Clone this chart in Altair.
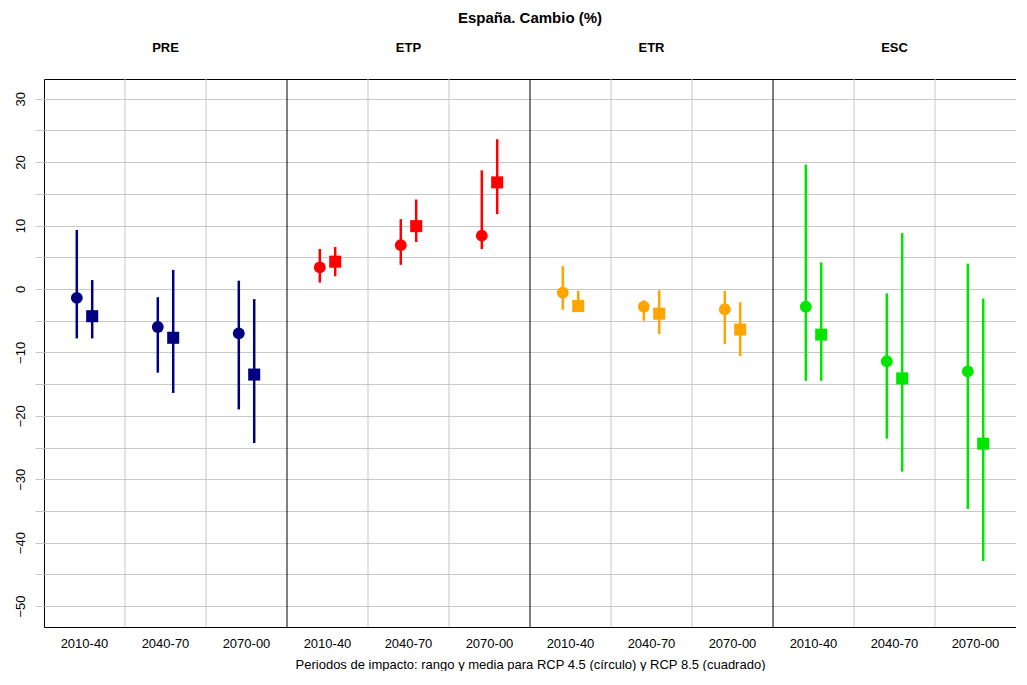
import altair as alt
import pandas as pd

variables = ["PRE", "ETP", "ETR", "ESC"]
periods = ["2010-40", "2040-70", "2070-00"]
scenarios = ["RCP 4.5", "RCP 8.5"]
colors = ["#000080", "#ff0000", "#ffa500", "#00e600"]

# RCP 4.5 (circle): mean, min, max per period
pre45_mean = [-1.4, -6.0, -7.0]
pre45_lo = [-7.8, -13.2, -19.0]
pre45_hi = [9.3, -1.3, 1.3]
etp45_mean = [3.4, 6.9, 8.4]
etp45_lo = [1.0, 3.8, 6.3]
etp45_hi = [6.3, 11.0, 18.7]
etr45_mean = [-0.6, -2.8, -3.2]
etr45_lo = [-3.3, -5.0, -8.7]
etr45_hi = [3.6, -1.8, -0.3]
esc45_mean = [-2.8, -11.4, -13.0]
esc45_lo = [-14.5, -23.6, -34.7]
esc45_hi = [19.6, -0.7, 4.0]

# RCP 8.5 (square): mean, min, max per period
pre85_mean = [-4.3, -7.7, -13.5]
pre85_lo = [-7.8, -16.4, -24.3]
pre85_hi = [1.4, 3.0, -1.6]
etp85_mean = [4.3, 9.9, 16.8]
etp85_lo = [2.0, 7.4, 11.8]
etp85_hi = [6.6, 14.1, 23.6]
etr85_mean = [-2.7, -3.9, -6.4]
etr85_lo = [-3.6, -7.1, -10.6]
etr85_hi = [-0.3, -0.2, -2.1]
esc85_mean = [-7.2, -14.1, -24.4]
esc85_lo = [-14.5, -28.8, -42.9]
esc85_hi = [4.2, 8.8, -1.5]

series = {
    ("PRE", "RCP 4.5"): (pre45_mean, pre45_lo, pre45_hi),
    ("PRE", "RCP 8.5"): (pre85_mean, pre85_lo, pre85_hi),
    ("ETP", "RCP 4.5"): (etp45_mean, etp45_lo, etp45_hi),
    ("ETP", "RCP 8.5"): (etp85_mean, etp85_lo, etp85_hi),
    ("ETR", "RCP 4.5"): (etr45_mean, etr45_lo, etr45_hi),
    ("ETR", "RCP 8.5"): (etr85_mean, etr85_lo, etr85_hi),
    ("ESC", "RCP 4.5"): (esc45_mean, esc45_lo, esc45_hi),
    ("ESC", "RCP 8.5"): (esc85_mean, esc85_lo, esc85_hi),
}

cats = [f"{v}|{p}" for v in variables for p in periods]

rows = []
for (var, sc), (m, lo, hi) in series.items():
    for i, p in enumerate(periods):
        rows.append({"variable": var, "scenario": sc, "period": p, "cat": f"{var}|{p}",
                     "mean": m[i], "lo": lo[i], "hi": hi[i]})
df = pd.DataFrame(rows)

FONT = "Liberation Sans"
GRID = "#c8c8c8"
XTITLE = "Periodos de impacto: rango y media para RCP 4.5 (círculo) y RCP 8.5 (cuadrado)"

yscale = alt.Scale(domain=[-53.3, 33.1], nice=False, zero=False)
yaxis = alt.Axis(values=list(range(-50, 35, 5)),
                 labelExpr="datum.value % 10 == 0 ? datum.label : ''",
                 title=None, labelAngle=270, labelAlign="center", labelBaseline="bottom",
                 grid=True, tickSize=9, tickColor=GRID, gridColor=GRID, gridWidth=1, domain=False,
                 labelFontSize=13, labelPadding=8, labelColor="black", labelFont=FONT)
xscale = alt.Scale(domain=cats, paddingInner=0, paddingOuter=0)
bottom_axis = alt.Axis(orient="bottom", labelExpr="split(datum.value, '|')[1]",
                       title=XTITLE, titleFontSize=13, titleFontWeight="normal", titleFont=FONT,
                       titleColor="black", titlePadding=8,
                       labelAngle=0, ticks=False, domain=False, grid=False,
                       labelFontSize=13, labelPadding=10, labelColor="black", labelFont=FONT)
top_axis = alt.Axis(orient="top",
                    labelExpr="split(datum.value, '|')[1] == '2040-70' ? split(datum.value, '|')[0] : ''",
                    title=None, labelAngle=0, ticks=False, domain=False, grid=False,
                    labelFontSize=13, labelFontWeight="bold", labelPadding=25,
                    labelColor="black", labelFont=FONT)
# circle and square sit about 15 px apart around the middle of each 81 px band
xoff = alt.XOffset("scenario:N", scale=alt.Scale(type="point", domain=scenarios, range=[32.8, 48.2], padding=0))
color = alt.Color("variable:N", scale=alt.Scale(domain=variables, range=colors), legend=None)

vgrid = alt.Chart(df).mark_rule(strokeWidth=1).encode(
    x=alt.X("cat:N", scale=xscale, axis=top_axis, bandPosition=0),
    color=alt.condition("datum.period == '2010-40'", alt.value("black"), alt.value(GRID)),
).transform_filter(f"datum.cat != '{cats[0]}' && datum.scenario == 'RCP 4.5'")

zero = alt.Chart(df).mark_rule(color="#bebebe", strokeWidth=4).encode(
    x=alt.X("cat:N", scale=xscale, axis=None),
    y=alt.datum(0, scale=yscale, axis=yaxis),
).transform_filter(f"datum.cat == '{cats[0]}' && datum.scenario == 'RCP 4.5'")

ranges = alt.Chart(df).mark_rule(strokeWidth=2.5).encode(
    x=alt.X("cat:N", scale=xscale, axis=bottom_axis),
    xOffset=xoff,
    y=alt.Y("lo:Q", scale=yscale, axis=yaxis),
    y2="hi:Q",
    color=color,
)

points = alt.Chart(df).mark_point(filled=True, opacity=1).encode(
    x=alt.X("cat:N", scale=xscale, axis=None),
    xOffset=xoff,
    y=alt.Y("mean:Q", scale=yscale, axis=yaxis),
    color=color,
    shape=alt.Shape("scenario:N", scale=alt.Scale(domain=scenarios, range=["circle", "square"]), legend=None),
    size=alt.Size("scenario:N", scale=alt.Scale(domain=scenarios, range=[140, 145]), legend=None),
)

chart = alt.layer(vgrid, zero, ranges, points).resolve_axis(x="independent").properties(
    width=972, height=548,
    title=alt.TitleParams("España. Cambio (%)", fontSize=15, fontWeight="bold", font=FONT,
                          anchor="middle", offset=15, color="black"),
    padding={"left": 6, "top": 3, "right": 0, "bottom": 0},
).configure_view(stroke="black", strokeWidth=1)

chart.save("out.html", embed_options={"renderer": "svg", "actions": False})
